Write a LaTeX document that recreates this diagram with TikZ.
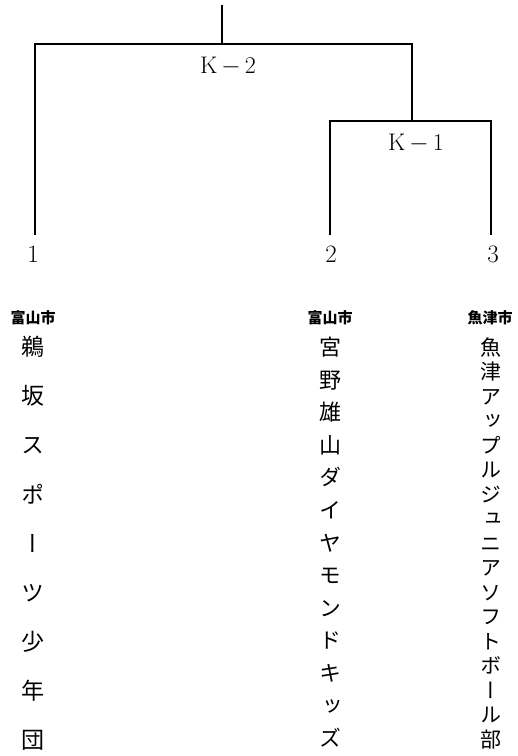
\documentclass[tikz,border=0pt]{standalone}
\usepackage{fontspec}
\newfontfamily\jp{Noto Sans CJK JP}
\newfontfamily\jpv[RawFeature=+vert]{Noto Sans CJK JP}
\tikzset{
  wire/.style={line width=2.1pt},
  num/.style={font=\fontsize{25}{25}\selectfont, inner sep=0pt},
  lab/.style={font=\fontsize{24}{24}\selectfont, inner sep=0pt},
  city/.style={font=\jp\bfseries\fontsize{15}{15}\selectfont, inner sep=0pt},
  chA/.style={font=\jpv\fontsize{23}{23}\selectfont, inner sep=0pt, text height=20.2pt, text depth=2.8pt},
  chB/.style={font=\jpv\fontsize{22}{22}\selectfont, inner sep=0pt, text height=19.4pt, text depth=2.6pt},
  chC/.style={font=\jpv\fontsize{21}{21}\selectfont, inner sep=0pt, text height=18.5pt, text depth=2.5pt},
}
\begin{document}
\begin{tikzpicture}[x=1pt,y=-1pt]
\useasboundingbox (0,0) rectangle (518,756);
% tree
\coordinate (top) at (222,5);
\coordinate (j2) at (222,44);
\coordinate (j1) at (412,121);
\coordinate (e1) at (35,235);
\coordinate (e2) at (330,235);
\coordinate (e3) at (491,235);
\draw[wire] (top) -- (j2);
\draw[wire] (e1) |- (j2) -| (j1);
\draw[wire] (e2) |- (j1) -| (e3);
\node[lab] (k2) at (228,66) {K\,$-$\,2};
\node[lab] (k1) at (416,143) {K\,$-$\,1};
\node[num] (n1) at (33,254) {1};
\node[num] (n2) at (331,254) {2};
\node[num] (n3) at (493,254) {3};
% cities
\node[city] (c1) at (33,318) {富山市};
\node[city] (c2) at (330,318) {富山市};
\node[city] (c3) at (490,318) {魚津市};
% team names
\foreach \c [count=\i] in {鵜,坂,ス,ポ,ー,ツ,少,年,団}
  \node[chA] (a\i) at (33,{347+49.1*(\i-1)}) {\c};
\foreach \c [count=\i] in {宮,野,雄,山,ダ,イ,ヤ,モ,ン,ド,キ,ッ,ズ}
  \node[chB] (b\i) at (330,{347+32.6*(\i-1)}) {\c};
\foreach \c [count=\i] in {魚,津,ア,ッ,プ,ル,ジ,ュ,ニ,ア,ソ,フ,ト,ボ,ー,ル,部}
  \node[chC] (d\i) at (491,{347+24.5*(\i-1)}) {\c};
\end{tikzpicture}
\end{document}
